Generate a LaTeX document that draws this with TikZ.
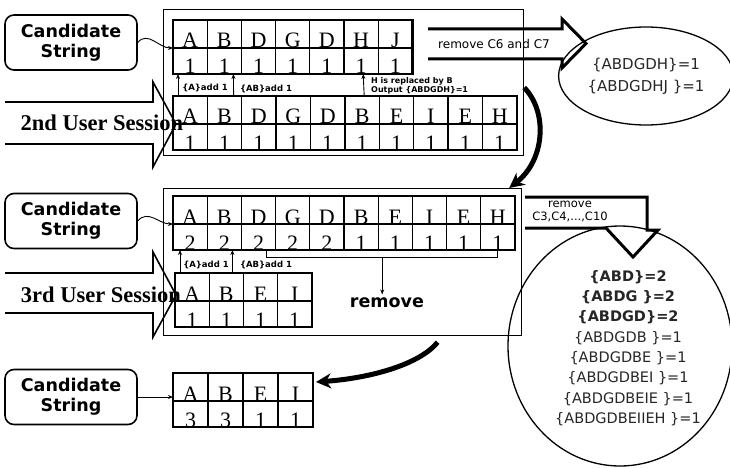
\documentclass[tikz,border=0pt]{standalone}
\usepackage{fontspec}
\setmainfont{Liberation Serif}
\setsansfont{DejaVu Sans}
\usepackage{tikz}
\usetikzlibrary{arrows.meta, shapes.geometric, calc, positioning}

\begin{document}
\begin{tikzpicture}[x=1pt, y=-1pt,
    lcell/.style={draw, line width=1.3pt, minimum width=34.2pt, minimum height=27pt,
        inner sep=0pt, outer sep=0pt, anchor=north west, text height=28pt, text depth=-1pt,
        font=\fontsize{22}{22}\selectfont},
    ncell/.style={lcell, minimum height=25pt, text height=26pt},
    thickframe/.style={line width=2.6pt},
    candbox/.style={draw, line width=1.6pt, rounded corners=9pt, minimum width=132pt,
        minimum height=55pt, align=center, font=\sffamily\bfseries\fontsize{17.5}{20}\selectfont},
    outerbox/.style={draw, line width=1.2pt, inner sep=0pt, anchor=north west},
    tinylab/.style={font=\sffamily\bfseries\fontsize{8.5}{9}\selectfont, inner sep=0pt},
    uparrow/.style={-{Stealth[length=5pt,width=4pt]}, line width=0.9pt},
    blockarrow/.style={line width=1.6pt, line join=miter},
    sesslab/.style={font=\bfseries\fontsize{22.5}{23}\selectfont, inner sep=0pt},
    bigcurve/.style={line width=5pt, -{Stealth[length=15pt,width=15pt]}},
    wavy/.style={line width=0.9pt, -{Stealth[length=5pt,width=4pt]}},
    countlist/.style={font=\sffamily\fontsize{14.5}{20.3}\selectfont, align=center, text=black!85}
]
    \useasboundingbox (0,0) rectangle (730,468);

    % Outer boxes
    \node[outerbox, minimum width=360pt, minimum height=146pt] (box1) at (163,9) {};
    \node[outerbox, minimum width=358pt, minimum height=147pt] (box2) at (163,188) {};

    % User session arrows
    \draw[blockarrow] (5,102) -- (153,102) -- (153,82) -- (176,124) -- (153,167) -- (153,144) -- (5,144);
    \node[sesslab] (sess2) at (102,123) {2nd User Session};
    \draw[blockarrow] (5,273) -- (153,273) -- (153,252) -- (176,295) -- (153,337) -- (153,313) -- (5,313);
    \node[sesslab] (sess3) at (101,295) {3rd User Session};

    % First candidate string and 2nd session
    \foreach \ch [count=\i] in {A,B,D,G,D,H,J} {
        \node[lcell] (c1l\i) at ({173+34.2*(\i-1)},20) {\ch};
        \node[ncell] (c1n\i) at (c1l\i.south west) {1};
    }
    \draw[thickframe] (c1l1.north west) rectangle (c1n7.south east);
    \foreach \ch [count=\i] in {A,B,D,G,D,B,E,I,E,H} {
        \node[lcell] (s2l\i) at ({173+34.4*(\i-1)},96) {\ch};
        \node[ncell] (s2n\i) at (s2l\i.south west) {1};
    }
    \draw[line width=1.8pt] (s2l1.north west) rectangle (s2n10.south east);

    % Second candidate string and 3rd session
    \foreach \ch/\cnt [count=\i] in {A/2,B/2,D/2,G/2,D/2,B/1,E/1,I/1,E/1,H/1} {
        \node[lcell] (c2l\i) at ({173+34.2*(\i-1)},196) {\ch};
        \node[ncell] (c2n\i) at (c2l\i.south west) {\cnt};
    }
    \draw[thickframe] (c2l1.north west) rectangle (c2n10.south east);
    \foreach \ch [count=\i] in {A,B,E,I} {
        \node[lcell] (s3l\i) at ({175+34.2*(\i-1)},273) {\ch};
        \node[ncell] (s3n\i) at (s3l\i.south west) {1};
    }
    \draw[line width=1.8pt] (s3l1.north west) rectangle (s3n4.south east);

    % Final candidate string
    \foreach \ch/\cnt [count=\i] in {A/3,B/3,E/1,I/1} {
        \node[lcell, minimum width=35pt] (c3l\i) at ({173+35*(\i-1)},373) {\ch};
        \node[ncell, minimum width=35pt] (c3n\i) at (c3l\i.south west) {\cnt};
    }
    \draw[thickframe] (c3l1.north west) rectangle (c3n4.south east);

    % Candidate String labels
    \node[candbox] (cs1) at (71,42.5) {Candidate\\String};
    \node[candbox] (cs2) at (71,221) {Candidate\\String};
    \node[candbox] (cs3) at (71,397) {Candidate\\String};
    \draw[wavy] (cs1.east) .. controls +(10,-12) and +(-14,0) .. (c1l1.south west);
    \draw[wavy] (cs2.east) .. controls +(10,-12) and +(-14,0) .. (c2l1.south west);
    \draw[wavy] (cs3.east) -- (cs3.east -| c3l1.west);

    % Add 1 arrows
    \draw[uparrow] ([xshift=5pt]s2l1.north west) -- ([xshift=5pt]c1n1.south west);
    \draw[uparrow] ([xshift=-8pt]s2l2.north east) -- ([xshift=-8pt]c1n2.south east);
    \draw[uparrow] ([xshift=-15pt]s2l6.north east) -- ([xshift=-15pt]c1n6.south east);
    \node[tinylab] (add1a) at (205,88) {\{A\}add 1};
    \node[tinylab] (add1b) at (266,89) {\{AB\}add 1};
    \node[tinylab, anchor=west, align=left, font=\sffamily\bfseries\fontsize{8}{9}\selectfont] (repl) at (371,86) {H is replaced by B\\Output \{ABDGDH\}=1};
    \draw[uparrow] ([xshift=5pt]s3l1.north west) -- ([xshift=7pt]c2n1.south west);
    \draw[uparrow] ([xshift=-11pt]s3l2.north east) -- ([xshift=-9pt]c2n2.south east);
    \node[tinylab] (add2a) at (206,265) {\{A\}add 1};
    \node[tinylab] (add2b) at (266,265) {\{AB\}add 1};

    % Remove bracket
    \coordinate (brl) at ([xshift=8pt]c2n3.south);
    \coordinate (brr) at (c2n10.south);
    \draw[line width=0.9pt] (brl) -- ++(0,7) -| (brr);
    \coordinate (brm) at ($(brl)!0.5!(brr)+(0,7)$);
    \node[font=\sffamily\bfseries\fontsize{17.5}{20}\selectfont] (rm3) at (387,303) {remove};
    \draw[uparrow] (brm) -- (brm |- rm3.north);

    % Removed strings
    \draw[line width=3pt, line join=miter] (428,29) -- (562,29) -- (562,19) -- (586,43.5) -- (562,68) -- (562,59) -- (428,59);
    \node[font=\sffamily\fontsize{12}{13}\selectfont] (rm1) at (494,44) {remove C6 and C7};
    \node[draw, ellipse, line width=1.3pt, minimum width=166pt, minimum height=98pt,
        font=\sffamily\fontsize{15}{22}\selectfont, align=center, text=black!85] (out1) at (646,76)
        {\{ABDGDH\}=1\\\{ABDGDHJ \}=1};

    \node[draw, ellipse, line width=1.3pt, minimum width=224pt, minimum height=240pt] (out2) at (620,346) {};
    \draw[line width=3pt, line join=miter] (525,197) -- (647,197) -- (647,230) -- (658,230) -- (633,257) -- (606,228) -- (525,228);
    \node[font=\sffamily\fontsize{11.5}{13}\selectfont, align=center] (rm2) at (570,211.5) {remove\\C3,C4,...,C10};
    \node[countlist] (cnt2) at (628,348) {\textbf{\{ABD\}=2}\\\textbf{\{ABDG \}=2}\\\textbf{\{ABDGD\}=2}\\
        \{ABDGDB \}=1\\\{ABDGDBE \}=1\\\{ABDGDBEI \}=1\\\{ABDGDBEIE \}=1\\\{ABDGDBEIIEH \}=1};

    % Flow between steps
    \draw[bigcurve] ([yshift=-5pt]box1.east) .. controls (548,112) and (545,160) .. ([xshift=-13pt]box2.north east);
    \draw[bigcurve] ([xshift=95pt,yshift=-6pt]box2.south) .. controls (420,364) and (372,378) .. ([xshift=3pt,yshift=5pt]c3l4.east);
\end{tikzpicture}
\end{document}
